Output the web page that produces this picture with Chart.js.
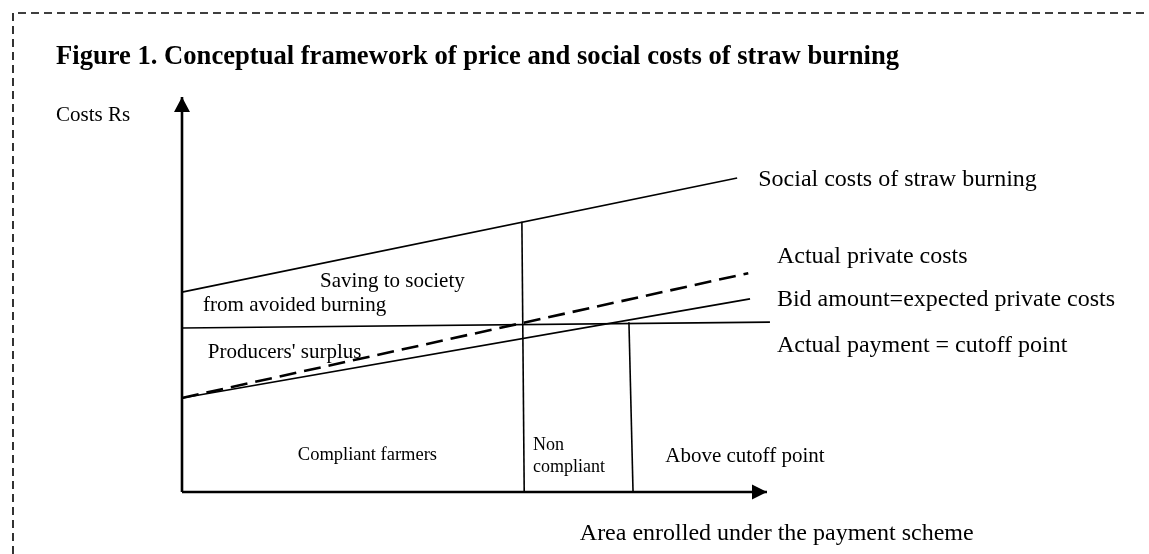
<!DOCTYPE html>
<html>
<head>
<meta charset="utf-8">
<script src="https://cdn.jsdelivr.net/npm/chart.js@4.4.1/dist/chart.umd.min.js"></script>
<style>
  html, body { margin: 0; padding: 0; background: #fff; }
  #wrap { position: relative; width: 1149px; height: 554px; }
</style>
</head>
<body>
<div id="wrap"><canvas id="framework" width="1149" height="554"></canvas></div>
<script>
// cost curves (area enrolled 0-100 on x, cost 0-100 on y)
const curveNames = ['Social costs of straw burning', 'Actual private costs', 'Bid amount=expected private costs', 'Actual payment = cutoff point'];
const curveStartCost = [50.6, 23.8, 23.8, 41.5];
const curveEndArea = [94.9, 96.8, 97.1, 100.5];
const curveEndCost = [79.5, 55.4, 48.9, 43.0];
const curveDashed = [false, true, false, false];

// vertical dividers: compliant | non compliant | above cutoff
const dividerTopArea = [58.1, 76.4];
const dividerBottomArea = [58.5, 77.1];
const dividerTopCost = [68.4, 43.0];

const areaRange = [0, 100];
const costRange = [0, 100];

const regionLabels = ['Saving to society', 'from avoided burning', "Producers' surplus", 'Compliant farmers', 'Non', 'compliant', 'Above cutoff point'];

const FONT = "'Times New Roman', 'Liberation Serif', serif";

// where the texts sit, in chart units
const curveLabelPos = [[98.5, 77.5], [101.7, 58.0], [101.7, 47.1], [101.7, 35.4]];
const regionLabelPos = [[23.6, 51.9], [3.6, 45.8], [4.4, 33.9], [19.8, 8.1], [60.0, 10.6], [60.0, 5.1], [82.6, 7.6]];
const regionLabelSize = [21, 21, 21, 18.5, 18, 18, 21];

const datasets = [];

// axes
datasets.push({ data: [{ x: areaRange[0], y: costRange[0] }, { x: areaRange[1], y: costRange[0] }], borderWidth: 2.6 });
datasets.push({ data: [{ x: areaRange[0], y: costRange[0] }, { x: areaRange[0], y: costRange[1] }], borderWidth: 2.6 });

curveNames.forEach((name, i) => {
  datasets.push({
    label: name,
    data: [{ x: 0, y: curveStartCost[i] }, { x: curveEndArea[i], y: curveEndCost[i] }],
    borderWidth: curveDashed[i] ? 2.6 : 1.6,
    borderDash: curveDashed[i] ? [17, 8] : []
  });
});

dividerTopArea.forEach((a, i) => {
  datasets.push({
    data: [{ x: a, y: dividerTopCost[i] }, { x: dividerBottomArea[i], y: 0 }],
    borderWidth: 1.6
  });
});

datasets.forEach(ds => {
  ds.showLine = true;
  ds.borderColor = '#000';
  ds.pointRadius = 0;
  ds.clip = false;
});

const figureDecor = {
  id: 'figureDecor',
  beforeDraw(chart) {
    const ctx = chart.ctx;
    ctx.save();
    ctx.strokeStyle = '#000';
    ctx.lineWidth = 1.6;
    ctx.setLineDash([8, 5]);
    ctx.beginPath();
    ctx.moveTo(13, chart.height);
    ctx.lineTo(13, 13);
    ctx.lineTo(chart.width, 13);
    ctx.stroke();
    ctx.restore();
  },
  afterDatasetsDraw(chart) {
    const { ctx, scales: { x, y } } = chart;
    const x0 = x.getPixelForValue(areaRange[0]);
    const x1 = x.getPixelForValue(areaRange[1]);
    const y0 = y.getPixelForValue(costRange[0]);
    const y1 = y.getPixelForValue(costRange[1]);
    ctx.save();
    ctx.fillStyle = '#000';
    // arrowheads
    ctx.beginPath();
    ctx.moveTo(x0, y1);
    ctx.lineTo(x0 - 8, y1 + 15);
    ctx.lineTo(x0 + 8, y1 + 15);
    ctx.closePath();
    ctx.fill();
    ctx.beginPath();
    ctx.moveTo(x1, y0);
    ctx.lineTo(x1 - 15, y0 - 7.5);
    ctx.lineTo(x1 - 15, y0 + 7.5);
    ctx.closePath();
    ctx.fill();

    ctx.textBaseline = 'alphabetic';
    ctx.textAlign = 'left';

    ctx.font = 'bold 26.6px ' + FONT;
    ctx.fillText('Figure 1. Conceptual framework of price and social costs of straw burning', 56, 64);

    ctx.font = '21px ' + FONT;
    ctx.fillText('Costs Rs', 56, y.getPixelForValue(93.9));

    ctx.font = '24px ' + FONT;
    ctx.fillText('Area enrolled under the payment scheme', x.getPixelForValue(68.0), y.getPixelForValue(-12.2));

    curveNames.forEach((name, i) => {
      ctx.fillText(name, x.getPixelForValue(curveLabelPos[i][0]), y.getPixelForValue(curveLabelPos[i][1]));
    });

    regionLabels.forEach((t, i) => {
      ctx.font = regionLabelSize[i] + 'px ' + FONT;
      ctx.fillText(t, x.getPixelForValue(regionLabelPos[i][0]), y.getPixelForValue(regionLabelPos[i][1]));
    });
    ctx.restore();
  }
};

new Chart(document.getElementById('framework'), {
  type: 'scatter',
  data: { datasets },
  options: {
    responsive: false,
    animation: false,
    events: [],
    layout: { padding: { left: 182, top: 97, right: 382, bottom: 62 } },
    plugins: { legend: { display: false }, tooltip: { enabled: false }, title: { display: false } },
    scales: {
      x: { type: 'linear', min: areaRange[0], max: areaRange[1], display: false },
      y: { type: 'linear', min: costRange[0], max: costRange[1], display: false }
    }
  },
  plugins: [figureDecor]
});
</script>
</body>
</html>
